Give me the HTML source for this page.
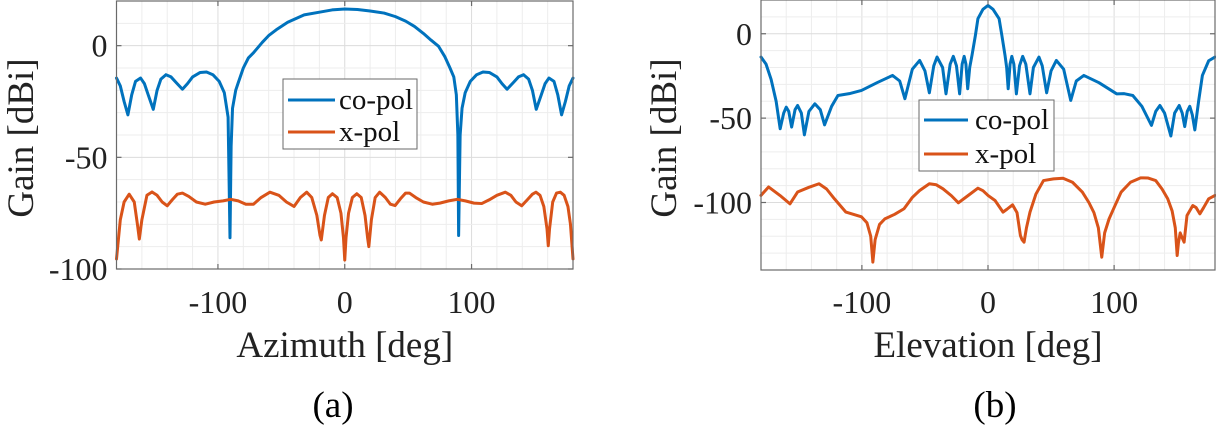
<!DOCTYPE html>
<html><head><meta charset="utf-8">
<style>
html,body{margin:0;padding:0;background:#fff;}
svg{display:block;}
svg text{font-family:"Liberation Serif","DejaVu Serif",serif !important;}
</style></head>
<body>
<svg id="fig" width="1216" height="425" viewBox="0 0 1216 425" xmlns="http://www.w3.org/2000/svg"></svg>
<script>
// ---- Panel (a): azimuth ----
const azCoAngles = [-180,-177,-174,-171,-168,-165,-161,-158,-155,-151,-148,-145,-141,-137,-133,-128,-124,-120,-114,-109,-104,-99,-95,-92,-90.5,-89.6,-88.5,-86,-84,-80,-76,-72,-65,-60,-54,-45,-32,-20,-10,0,10,20,31,40,48,55,62,68,74,79,83,86,88,89.2,89.8,91,92.5,95,99,104,109,114,120,124,128,133,137,141,145,148,151,155,158,161,165,168,171,174,177,180];
const azCoValues = [-14.5,-18,-25,-31,-22,-16,-14.5,-17,-22,-28.5,-20,-15,-13,-14,-16.5,-19.5,-17,-14,-12,-11.8,-13,-16,-21,-32,-86,-45,-28,-20,-16.6,-10,-5.5,-3.2,1.5,4.5,7.1,10.5,13.8,15,16,16.4,16.2,15.5,14.6,13,11,8.6,5.5,2.5,-0.3,-5,-10,-14,-22,-40,-85,-40,-28,-21,-16,-13,-11.8,-12,-14,-17,-19.5,-16.5,-14,-13,-15,-20,-28.5,-22,-17,-14.5,-16,-22,-31,-25,-18,-14.5];
const azXAngles = [-180,-177,-174,-170,-166,-163.5,-162,-160,-156,-152,-148,-144,-140,-136,-132,-128,-123,-117,-110,-103,-96,-90,-84,-78,-72,-66,-59,-52,-46,-40,-35,-30,-26,-22,-19.5,-18.5,-16,-13,-9.7,-6,-3,-1,0,1,3,6,9.5,13,16,18,19,21,24,27.5,32,36,39.7,44,48,51,56,62,69,75,82,88.7,95,102,108,114,120,126.6,131,135,139.5,144,148,150.8,154,157,159.5,160.5,161.5,164,167,170,173,176,178,180];
const azXValues = [-95.5,-78,-70,-66.5,-70,-80,-86.6,-78,-67,-65.5,-67,-70,-71.7,-69,-66.5,-66,-67.5,-70,-71,-70,-69.5,-68.8,-69.5,-71,-71,-68,-65.6,-67,-70,-72,-68,-65.6,-68,-76,-85,-87,-76,-68,-66.3,-68,-75,-86,-96,-86,-75,-68,-66.3,-68,-76,-86,-90,-78,-68,-65.6,-68,-71,-71.6,-68.5,-66,-66,-68,-70,-71,-70.5,-69.5,-68.8,-69.5,-70.5,-70.7,-69,-67,-65.6,-67,-70,-71.7,-69,-66.5,-65.6,-67,-72,-82,-89.6,-82,-70,-66,-65.6,-67,-72,-80,-95.5];
const azXTicks = [-100,0,100];
const azYTicks = [0,-50,-100];
const azYTickLabels = ["0","-50","-100"];

// ---- Panel (b): elevation ----
const elCoAngles = [-180,-176,-172,-168,-164.8,-162,-160,-158,-155.7,-153,-151,-148,-145.6,-142,-137.3,-133,-129.6,-124,-119,-110,-100.3,-88,-75.7,-70,-65.9,-60,-54.2,-50,-46.5,-43,-40.4,-36,-33.3,-30,-27.5,-25,-22.5,-20.5,-18.9,-17.5,-16.1,-14.5,-12.7,-10,-8,-4,0,4,8.8,11,13.5,14.8,16,17.5,18.9,20.5,22.5,25,27.5,30,33.3,36,40.4,43,46.5,50,54.2,60,65.6,70,76,88,102,108,114.8,122,129.6,133,136.3,140,145,148,151.6,154,156,158,160,162,164,167,170,175,180];
const elCoValues = [-13.8,-18,-27,-40,-56.3,-47,-43.5,-46,-55.3,-45,-42.5,-47,-59.9,-46,-41.5,-45,-54,-43,-36.6,-35.5,-33.6,-29,-24.7,-28,-38.5,-21,-15.8,-22,-35,-19,-13.8,-20,-35.6,-18,-13.4,-19,-35.6,-18,-13.4,-18,-32.6,-20,-12.8,-1,8.9,14.5,16.8,14.5,8.9,-1,-12.8,-20,-32.6,-18,-13.4,-18,-35.6,-19,-13.4,-18,-35.6,-20,-13.8,-19,-35,-22,-15.8,-21,-39.5,-28,-24.7,-29,-35.6,-35.5,-36.6,-43,-54.3,-46,-42.5,-47,-60.6,-47,-42.5,-47,-55,-46,-43,-48,-57,-40,-24.7,-16,-13.8];
const elXAngles = [-180,-174,-165,-157,-151,-142,-134,-128,-121.8,-112.7,-100.3,-96,-93,-91.3,-89.5,-86,-81.8,-74,-66.6,-60,-54.2,-46.5,-41,-35.7,-29,-23.5,-16,-8,-4,0,5.6,11.9,15,19.5,23,25.7,27,28.6,30.5,33.3,38,44,52,59.5,67,74.8,80,84,87.5,90.2,92.5,96,100,105.6,113,121,127,133,138,142.5,146,148.5,150,151,152.4,154,155.5,157.8,162.4,165,168,171,175,180];
const elXValues = [-95.8,-90.8,-95.8,-100.8,-93.8,-91,-88.9,-92,-97.8,-105.7,-108.5,-112,-120,-135.3,-122,-113,-109.7,-107,-103.7,-97,-92.9,-88.9,-89.5,-91.9,-96,-100.2,-96,-91.5,-93,-95.8,-98.8,-105.7,-104,-101.4,-106,-119.6,-122,-123.5,-115,-105.7,-95,-87,-86,-85.6,-88,-93.8,-100,-106,-115,-132.4,-118,-109.7,-103,-93.8,-88,-85.4,-85.5,-87,-92,-97.8,-105,-115,-131.4,-124,-118,-121,-123.5,-107.7,-101.8,-103,-106.7,-103,-97.8,-95.8];
const elXTicks = [-100,0,100];
const elYTicks = [0,-50,-100];
const elYTickLabels = ["0","-50","-100"];

const NS = "http://www.w3.org/2000/svg";
const svg = document.getElementById('fig');
function mk(tag, attrs, parent){
  const e = document.createElementNS(NS, tag);
  for (const k in attrs) e.setAttribute(k, attrs[k]);
  (parent||svg).appendChild(e);
  return e;
}

function panel(cfg){
  const g = mk('g', {});
  
  
  const L=cfg.x0, R=cfg.x1, T=cfg.y0, B=cfg.y1;
  const sx = v => L + (v - (-180)) / 360 * (R - L);
  const sy = v => T + (cfg.ymax - v) / (cfg.ymax - cfg.ymin) * (B - T);
  const grid = mk('g', {}, g);
  
  
  for (let d=-160; d<180; d+=20){
    const maj = cfg.xticks.includes(d);
    mk('line',{x1:sx(d),x2:sx(d),y1:T,y2:B,stroke:maj?'#dcdcdc':'#ededed','stroke-width':1},grid);
  }
  for (let v=cfg.ymin+10; v<cfg.ymax; v+=10){
    const maj = cfg.yticks.includes(v);
    mk('line',{x1:L,x2:R,y1:sy(v),y2:sy(v),stroke:maj?'#dcdcdc':'#ededed','stroke-width':1},grid);
  }
  function series(xs, ys, color, name){
    let d = '';
    for (let i=0;i<xs.length;i++) d += (i?'L':'M') + sx(xs[i]).toFixed(2) + ',' + sy(ys[i]).toFixed(2);
    const p = mk('path',{d:d,fill:'none',stroke:color,'stroke-width':3,'stroke-linejoin':'round','stroke-linecap':'round'},g);
    
    
  }
  series(cfg.coX, cfg.coY, '#0072BD', 'co-pol-line');
  series(cfg.xX, cfg.xY, '#D95319', 'x-pol-line');
  const box = mk('rect',{x:L,y:T,width:R-L,height:B-T,fill:'none',stroke:'#6a6a6a','stroke-width':1.2},g);
  
  
  cfg.xticks.forEach(t=>{
    mk('line',{x1:sx(t),x2:sx(t),y1:B,y2:B-5,stroke:'#6a6a6a','stroke-width':1.2},g);
    mk('line',{x1:sx(t),x2:sx(t),y1:T,y2:T+5,stroke:'#6a6a6a','stroke-width':1.2},g);
    const tx = mk('text',{x:sx(t),y:313,'font-size':32,'text-anchor':'middle',fill:'#222'},g);
    tx.textContent = String(t);
    
    
  });
  cfg.yticks.forEach((t,i)=>{
    mk('line',{x1:L,x2:L+5,y1:sy(t),y2:sy(t),stroke:'#6a6a6a','stroke-width':1.2},g);
    mk('line',{x1:R,x2:R-5,y1:sy(t),y2:sy(t),stroke:'#6a6a6a','stroke-width':1.2},g);
    const ty = mk('text',{x:L-9,y:sy(t)+11,'font-size':32,'text-anchor':'end',fill:'#222'},g);
    ty.textContent = cfg.ylabels[i];
    
    
  });
  const xl = mk('text',{x:(L+R)/2,y:357,'font-size':37,'text-anchor':'middle',fill:'#222'},g);
  xl.textContent = cfg.xlabel;
  
  
  const yl = mk('text',{x:0,y:0,'font-size':37,'text-anchor':'middle',fill:'#222',transform:'translate('+(cfg.ylx)+',138) rotate(-90)'},g);
  yl.textContent = 'Gain [dBi]';
  
  
  const cap = mk('text',{x:cfg.capx,y:417,'font-size':37,'text-anchor':'middle',fill:'#000'},g);
  cap.textContent = cfg.caption;
  
  
  const lg = mk('g',{},g);
  
  
  const b = cfg.leg;
  mk('rect',{x:b.x,y:b.y,width:b.w,height:b.h,fill:'#fff',stroke:'#6a6a6a','stroke-width':1},lg);
  const e1 = mk('g',{},lg);
  
  
  mk('line',{x1:b.lx0,x2:b.lx1,y1:b.b1-9,y2:b.b1-9,stroke:'#0072BD','stroke-width':3},e1);
  const t1 = mk('text',{x:b.tx,y:b.b1,'font-size':29,fill:'#111'},e1);
  t1.textContent='co-pol';
  const e2 = mk('g',{},lg);
  
  
  mk('line',{x1:b.lx0,x2:b.lx1,y1:b.b2-9,y2:b.b2-9,stroke:'#D95319','stroke-width':3},e2);
  const t2 = mk('text',{x:b.tx,y:b.b2,'font-size':29,fill:'#111'},e2);
  t2.textContent='x-pol';
}

panel({name:'azimuth-chart',x0:116.5,x1:573,y0:1,y1:269,ymin:-100,ymax:20,
  coX:azCoAngles,coY:azCoValues,xX:azXAngles,xY:azXValues,
  xticks:azXTicks,yticks:azYTicks,ylabels:azYTickLabels,
  xlabel:'Azimuth [deg]',ylx:33,capx:333,caption:'(a)',
  leg:{x:283,y:79,w:134,h:70,lx0:288,lx1:335,tx:339,b1:109,b2:141}});
panel({name:'elevation-chart',x0:761,x1:1215,y0:0,y1:270,ymin:-140,ymax:20,
  coX:elCoAngles,coY:elCoValues,xX:elXAngles,xY:elXValues,
  xticks:elXTicks,yticks:elYTicks,ylabels:elYTickLabels,
  xlabel:'Elevation [deg]',ylx:676,capx:995,caption:'(b)',
  leg:{x:919,y:100,w:135,h:71,lx0:924,lx1:968,tx:975,b1:129,b2:163}});
</script>
</body></html>
